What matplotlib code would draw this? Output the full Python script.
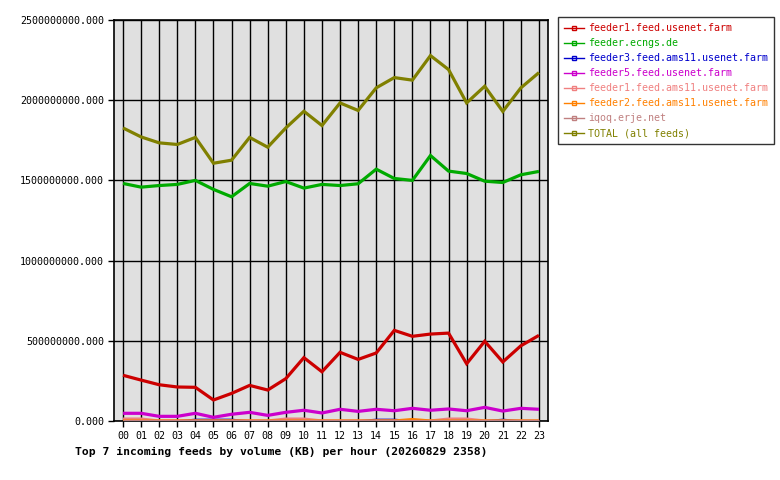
import matplotlib
matplotlib.use("Agg")
import matplotlib.pyplot as plt
from matplotlib.lines import Line2D
import numpy as np

hours = ["%02d" % h for h in range(24)]

feeder1_usenet = [285, 255, 226, 212, 210, 131, 172, 222, 193, 264, 395, 307,
                  428, 384, 424, 565, 528, 542, 548, 357, 497, 368, 469, 534]
feeder_ecngs = [1481, 1458, 1468, 1475, 1500, 1444, 1398, 1481, 1464, 1493, 1452, 1475,
                1468, 1479, 1570, 1512, 1500, 1655, 1558, 1543, 1495, 1487, 1535, 1556]
feeder3_ams11 = [0, 0, 0, 0, 9, 9, 9, 0, 0, 0, 0, 0,
                 0, 0, 9, 9, 0, 0, 0, 0, 0, 9, 0, 0]
feeder5_usenet = [48, 48, 29, 29, 48, 23, 42, 54, 35, 54, 67, 50,
                  73, 60, 73, 64, 79, 67, 75, 64, 85, 62, 79, 73]
feeder1_ams11 = [12, 12, 0, 0, 0, 0, 0, 0, 0, 12, 12, 0,
                 0, 0, 0, 0, 0, 0, 12, 12, 0, 0, 0, 0]
feeder2_ams11 = [0, 0, 0, 0, 0, 0, 0, 0, 0, 0, 0, 0,
                 0, 0, 0, 0, 9, 0, 0, 0, 0, 0, 0, 0]
iqoq = [1] * 24
total = [1827, 1771, 1734, 1724, 1768, 1607, 1626, 1768, 1707, 1827, 1931, 1842,
         1983, 1936, 2077, 2141, 2125, 2278, 2191, 1983, 2087, 1930, 2077, 2172]

names = ["feeder1.feed.usenet.farm", "feeder.ecngs.de", "feeder3.feed.ams11.usenet.farm",
         "feeder5.feed.usenet.farm", "feeder1.feed.ams11.usenet.farm",
         "feeder2.feed.ams11.usenet.farm", "iqoq.erje.net", "TOTAL (all feeds)"]
series = [feeder1_usenet, feeder_ecngs, feeder3_ams11, feeder5_usenet,
          feeder1_ams11, feeder2_ams11, iqoq, total]
colors = ["#cc0000", "#00aa00", "#0000cc", "#cc00cc", "#f08080", "#ff8000",
          "#c08080", "#808000"]
widths = [2.3, 2.3, 1.3, 2.3, 2.3, 2.3, 2.3, 2.3]

title = "Top 7 incoming feeds by volume (KB) per hour (20260829 2358)"
yticks = [0, 500, 1000, 1500, 2000, 2500]

mono = "DejaVu Sans Mono"
fig = plt.figure(figsize=(7.8, 4.8), dpi=100)
ax = fig.add_axes([114/780, 59/480, 434/780, 401/480])
ax.set_facecolor("#e0e0e0")

x = np.arange(24)
for s, c, w in zip(series, colors, widths):
    ax.plot(x, np.array(s) * 1e6, color=c, lw=w, solid_joinstyle="miter",
            solid_capstyle="butt", zorder=3)

ax.set_xlim(-0.5, 23.5)
ax.set_ylim(0, 2500e6)
ax.set_xticks(x)
ax.set_xticklabels(hours, fontfamily=mono, fontsize=7.2)
ax.set_yticks([v * 1e6 for v in yticks])
ax.set_yticklabels(["%d.000" % (v * 1000000) for v in yticks], fontfamily=mono, fontsize=7.2)
ax.grid(True, color="black", lw=1, zorder=1)
ax.set_axisbelow(True)
ax.tick_params(length=4, width=1, color="black", pad=3)
for sp in ax.spines.values():
    sp.set_linewidth(1.2)

fig.text(75/780, 1 - 452/480, title, fontfamily=mono, fontsize=8.2,
         fontweight="bold", va="center", ha="left")

handles = [Line2D([0], [0], color=c, lw=1, marker="s", markersize=3,
                  markerfacecolor="none", markeredgecolor=c, markeredgewidth=1)
           for c in colors]
leg = fig.legend(handles, names, loc="upper left",
                 bbox_to_anchor=(558/780, 1 - 17/480), bbox_transform=fig.transFigure,
                 prop={"family": mono, "size": 7.2}, frameon=True, fancybox=False,
                 edgecolor="black", handlelength=2.0, handletextpad=0.4,
                 labelspacing=0.5, borderpad=0.6, borderaxespad=0)
leg.get_frame().set_linewidth(1)
for t, c in zip(leg.get_texts(), colors):
    t.set_color(c)

fig.savefig("out.png", dpi=100)
